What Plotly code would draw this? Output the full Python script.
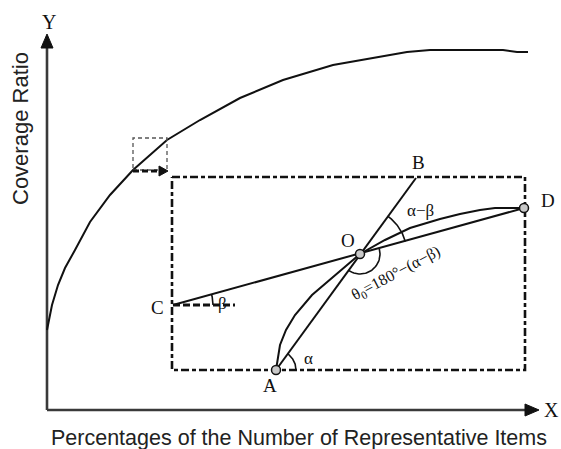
import numpy as np
import plotly.graph_objects as go

# ---- data (diagram units: pixels from the axis origin, y up) ----
curve_x = [0, 5, 11, 18, 28, 43, 63, 86, 120, 153, 193, 236, 286, 330, 360, 383, 456, 470, 481]
curve_y = [80, 105, 125, 142, 160, 188, 215, 240, 270, 290, 312, 330, 345, 353, 358, 360, 360, 358, 358]

inner_x = [229, 233, 239, 248, 265, 288, 313, 338, 363, 393, 413, 433, 448, 477]
inner_y = [40, 65, 80, 95, 115, 135, 156, 170, 182, 191, 196, 200, 202, 202]

point_names = ["A", "O", "D", "C", "B"]
point_x = [229, 313, 477, 126, 369]
point_y = [40, 156, 202, 105, 232]

rect_x = [125, 478]
rect_y = [40, 233]
zoom_box_x = [86, 120]
zoom_box_y = [240, 272]

axis_x_end = 478
axis_y_end = 362

x_label = "Percentages of the Number of Representative Items"
y_label = "Coverage Ratio"

P = dict(zip(point_names, zip(point_x, point_y)))
A, O, D, C, B = (np.array(P[k], dtype=float) for k in point_names)

BLACK = "#111111"
AX = "#3a3a3a"
fig = go.Figure()

def line(xs, ys, width=2, color=BLACK, dash="solid"):
    fig.add_trace(go.Scatter(x=xs, y=ys, mode="lines",
                             line=dict(color=color, width=width, dash=dash),
                             hoverinfo="skip", showlegend=False))

def tri(xs, ys, color=BLACK):
    fig.add_trace(go.Scatter(x=xs + [xs[0]], y=ys + [ys[0]], mode="lines",
                             fill="toself", fillcolor=color,
                             line=dict(color=color, width=1),
                             hoverinfo="skip", showlegend=False))

def arc(center, r, a0, a1, width=1.6):
    t = np.linspace(a0, a1, 40)
    line(list(center[0] + r * np.cos(t)), list(center[1] + r * np.sin(t)), width=width)

# axes
line([0, 0], [0, axis_y_end], width=2.6, color=AX)
line([0, axis_x_end], [0, 0], width=2.6, color=AX)
tri([-6, 6, 0], [axis_y_end, axis_y_end, axis_y_end + 14])
tri([axis_x_end, axis_x_end, axis_x_end + 14], [-6, 6, 0])

# coverage curve
line(curve_x, curve_y, width=2)

# small dashed box and arrow
bx0, bx1 = zoom_box_x
by0, by1 = zoom_box_y
line([bx0, bx1, bx1, bx0, bx0], [by0, by0, by1, by1, by0], width=1.3, color="#555555", dash="4px,3px")
line([bx0, bx1 - 6], [by0 - 1, by0 - 1], width=3, dash="6px,3px")
tri([bx1 - 8, bx1 - 8, bx1 + 1], [by0 + 4, by0 - 6, by0 - 1])

# big dash-dot rectangle
rx0, rx1 = rect_x
ry0, ry1 = rect_y
line([rx0, rx1, rx1, rx0, rx0], [ry1, ry1, ry0, ry0, ry1], width=2.6, dash="8px,3px,4px,3px")

# straight lines C-D and A-B
line([C[0], D[0]], [C[1], D[1]], width=2)
line([A[0], B[0]], [A[1], B[1]], width=2)

# inner curve A-O-D
line(inner_x, inner_y, width=2)

# beta reference dashed line
line([C[0], C[0] + 62], [C[1], C[1]], width=3, dash="7px,3px")

# angles
alpha = np.arctan2(B[1] - A[1], B[0] - A[0])
beta = np.arctan2(D[1] - C[1], D[0] - C[0])
oa = np.arctan2(A[1] - O[1], A[0] - O[0])
arc(A, 20, 0, alpha)
arc(C, 40, 0, beta)
arc(O, 47, beta, alpha)
arc(O, 20, beta, oa if oa < beta else oa - 2 * np.pi)

# points
fig.add_trace(go.Scatter(x=[A[0], O[0], D[0]], y=[A[1], O[1], D[1]], mode="markers",
                         marker=dict(size=9, color="#c8c8c8", line=dict(color=BLACK, width=1.5)),
                         hoverinfo="skip", showlegend=False))

SERIF = "Liberation Serif, Times New Roman, serif"
SANS = "Liberation Sans, Arial, sans-serif"

def label(x, y, text, size=19, family=SERIF, angle=0, color=BLACK):
    fig.add_annotation(x=x, y=y, text=text, showarrow=False, textangle=angle,
                       font=dict(family=family, size=size, color=color),
                       xanchor="center", yanchor="middle")

label(2, 388, "Y", 20)
label(504, 0, "X", 20)
label(371, 248, "B")
label(501, 210, "D")
label(301, 170, "O")
label(110, 103, "C")
label(223, 25, "A")
label(261, 52, "α", 17)
label(175, 107, "β", 17)
label(373, 200, "α−β", 17)
label(349, 137, "θ<sub>0</sub>=180°−(α−β)", 16, angle=-28)
label(-27, 281, y_label, 22, SANS, angle=-90, color="#222222")
label(252, -28, x_label, 21.5, SANS, color="#222222")

fig.update_layout(
    width=561, height=449,
    margin=dict(l=0, r=0, t=0, b=0),
    paper_bgcolor="white", plot_bgcolor="white",
    xaxis=dict(range=[-47, 514], visible=False, fixedrange=True),
    yaxis=dict(range=[-39, 410], visible=False, fixedrange=True),
    showlegend=False,
)
fig.write_html("out.html", config={"displayModeBar": False},
               post_script="document.body.style.margin='0';document.body.style.overflow='hidden';")
